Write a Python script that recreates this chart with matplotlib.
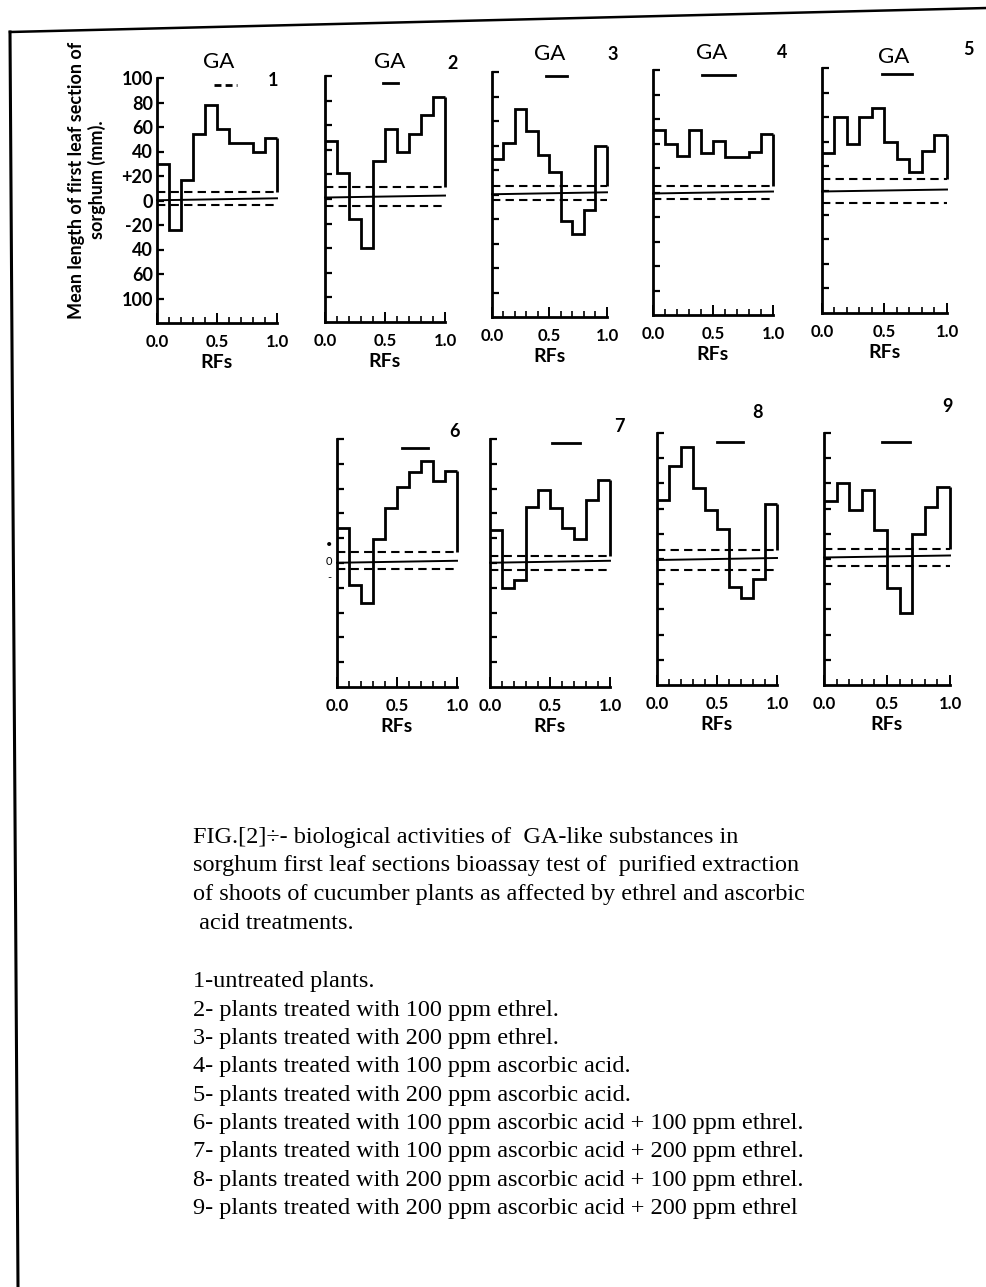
"""Sorghum first-leaf bioassay histograms of GA-like substances (Fig. 2 recreation)."""

import matplotlib

matplotlib.use("Agg")
import matplotlib.pyplot as plt
from matplotlib.lines import Line2D
from matplotlib.ticker import MultipleLocator

W, H = 987, 1287

# --- data -------------------------------------------------------------------
rf_edges = [0.0, 0.1, 0.2, 0.3, 0.4, 0.5, 0.6, 0.7, 0.8, 0.9, 1.0]

p1 = [30, -24, 17, 54, 78, 58, 47, 47, 40, 51]
p2 = [47, 21, -16, -40, 31, 57, 38, 53, 68, 83]
p3 = [29, 42, 70, 52, 32, 18, -22, -32, -13, 40]
p4 = [51, 40, 30, 51, 32, 42, 29, 29, 33, 48]
p5 = [31, 60, 38, 60, 67, 40, 26, 15, 32, 45]
p6 = [28, -18, -32, 19, 44, 61, 73, 82, 66, 74]
p7 = [27, -20, -14, 45, 59, 44, 28, 19, 51, 67]
p8 = [47, 74, 89, 56, 39, 24, -22, -31, -16, 44]
p9 = [46, 60, 39, 55, 23, -23, -43, 20, 41, 57]
panel_values = [p1, p2, p3, p4, p5, p6, p7, p8, p9]

# control mean (solid) and its upper / lower limits (dashed)
ctrl_upper = [7, 10, 7, 5, 9.5, 9, 6, 7, 8]
ctrl_mean = [1, 2, 1, 0, 0, 1, 1, 0, 2]
ctrl_lower = [-4, -6, -4.5, -5.5, -10, -4.5, -5.5, -9, -5.5]

# Rf span of the GA standard marker above each histogram
ga_start = [0.475, 0.48, 0.47, 0.41, 0.48, 0.54, 0.52, 0.50, 0.46]
ga_end = [0.67, 0.61, 0.65, 0.68, 0.72, 0.76, 0.75, 0.72, 0.68]
panel_names = ["1", "2", "3", "4", "5", "6", "7", "8", "9"]

y_ticks = [100, 80, 60, 40, 20, 0, -20, -40, -60, -80]
y_tick_labels = ["100", "80", "60", "40", "+20", "0", "-20", "40", "60", "100"]
x_tick_labels = ["0.0", "0.5", "1.0"]

caption_head = [
    "FIG.[2]÷- biological activities of  GA-like substances in",
    "sorghum first leaf sections bioassay test of  purified extraction",
    "of shoots of cucumber plants as affected by ethrel and ascorbic",
    " acid treatments.",
]
caption_list = [
    "1-untreated plants.",
    "2- plants treated with 100 ppm ethrel.",
    "3- plants treated with 200 ppm ethrel.",
    "4- plants treated with 100 ppm ascorbic acid.",
    "5- plants treated with 200 ppm ascorbic acid.",
    "6- plants treated with 100 ppm ascorbic acid + 100 ppm ethrel.",
    "7- plants treated with 100 ppm ascorbic acid + 200 ppm ethrel.",
    "8- plants treated with 200 ppm ascorbic acid + 100 ppm ethrel.",
    "9- plants treated with 200 ppm ascorbic acid + 200 ppm ethrel",
]

# --- layout (pixel boxes: left, top, right, bottom) -------------------------
boxes = [
    (157, 78, 277, 323),
    (325, 76, 445, 322),
    (492, 72, 607, 317),
    (653, 70, 773, 315),
    (822, 68, 947, 313),
    (337, 439, 457, 687),
    (490, 439, 610, 687),
    (657, 433, 777, 685),
    (824, 433, 950, 685),
]
ga_text_pos = [(0.51, 113), (0.54, 111), (0.50, 115), (0.49, 114), (0.57, 109)]
ga_bar_y = [94, 94, 97, 96, 95, 93, 97, 93, 93]
num_pos = [(0.97, 98), (1.06, 110), (1.05, 114), (1.08, 114), (1.17, 115),
           (0.98, 106), (1.08, 110), (0.84, 116), (0.98, 121)]

SANS = "Lato"
SERIF = "Liberation Serif"

fig = plt.figure(figsize=(W / 100, H / 100), dpi=100)
fig.patch.set_facecolor("white")

# page frame from the scan
fig.add_artist(Line2D([10 / W, 987 / W], [1 - 32 / H, 1 - 8 / H],
                      color="black", lw=1.8, transform=fig.transFigure))
fig.add_artist(Line2D([10 / W, 18 / W], [1 - 32 / H, 0.0],
                      color="black", lw=2.2, transform=fig.transFigure))

for i, (l, t, r, b) in enumerate(boxes):
    ax = fig.add_axes([l / W, 1 - b / H, (r - l) / W, (b - t) / H])
    ax.set_xlim(0, 1.0)
    ax.set_ylim(-100, 100)
    ax.patch.set_alpha(0)
    for side in ("top", "right"):
        ax.spines[side].set_visible(False)
    for side in ("left", "bottom"):
        ax.spines[side].set_linewidth(2.0)

    vals = panel_values[i]
    ax.stairs(vals, rf_edges, baseline=None, color="black", lw=2.0,
              clip_on=False)
    ax.plot([rf_edges[-1], rf_edges[-1]], [vals[-1], ctrl_upper[i]],
            color="black", lw=2.0, solid_capstyle="butt", clip_on=False)

    ax.plot([0, 1.0], [ctrl_mean[i] - 0.8, ctrl_mean[i] + 0.8],
            color="black", lw=1.4, clip_on=False)
    ax.plot([0, 1.0], [ctrl_upper[i], ctrl_upper[i]],
            color="black", lw=1.5, linestyle=(0, (4, 2.5)), clip_on=False)
    ax.plot([0, 1.0], [ctrl_lower[i], ctrl_lower[i]],
            color="black", lw=1.5, linestyle=(0, (4, 2.5)), clip_on=False)

    # y ticks point into the panel; only panel 1 carries numbers
    ax.set_yticks(y_ticks)
    ax.tick_params(axis="y", direction="in", length=5, width=1.6, pad=3)
    if i == 0:
        ax.set_yticklabels(y_tick_labels, fontfamily=SANS, fontweight="bold",
                           fontsize=13)
    else:
        ax.set_yticklabels([])

    ax.set_xticks([0.0, 0.5, 1.0])
    ax.set_xticklabels(x_tick_labels, fontfamily=SANS, fontweight="bold",
                       fontsize=12)
    ax.xaxis.set_minor_locator(MultipleLocator(0.1))
    ax.tick_params(axis="x", which="major", direction="in", length=7,
                   width=1.4, pad=8)
    ax.tick_params(axis="x", which="minor", direction="in", length=4,
                   width=1.2)
    ax.set_xlabel("RFs", fontfamily=SANS, fontweight="bold", fontsize=14,
                  labelpad=3)

    # GA standard marker and panel number
    ga_style = (0, (2.5, 1.5)) if i == 0 else "-"
    ax.plot([ga_start[i], ga_end[i]], [ga_bar_y[i], ga_bar_y[i]],
            color="black", lw=2.0, linestyle=ga_style, clip_on=False)
    if i < 5:
        gx, gy = ga_text_pos[i]
        ax.text(gx, gy, "GA", ha="center", va="center", fontfamily=SANS,
                fontsize=16, clip_on=False)
    nx, ny = num_pos[i]
    ax.text(nx, ny, panel_names[i], ha="center", va="center",
            fontfamily=SANS, fontweight="bold", fontsize=13, clip_on=False)

# stray sign marks left of panel 6
for mark, y_px in zip(["\u2022", "0", "-"], [545, 562, 578]):
    fig.text(329 / W, 1 - y_px / H, mark, ha="center", va="center",
             fontfamily=SANS, fontsize=8)

fig.text(87 / W, 1 - 180 / H,
         "Mean length of first leaf section of\nsorghum (mm).",
         rotation=90, ha="center", va="center", ma="center",
         fontfamily=SANS, fontweight="bold", fontsize=13, linespacing=1.15)

for k, line in enumerate(caption_head):
    fig.text(193 / W, 1 - (837 + 28.7 * k) / H, line, ha="left",
             va="center", fontfamily=SERIF, fontsize=17.5)
for k, line in enumerate(caption_list):
    fig.text(193 / W, 1 - (982 + 28.3 * k) / H, line, ha="left",
             va="center", fontfamily=SERIF, fontsize=17.5)

fig.savefig("out.png", dpi=100, facecolor="white")
